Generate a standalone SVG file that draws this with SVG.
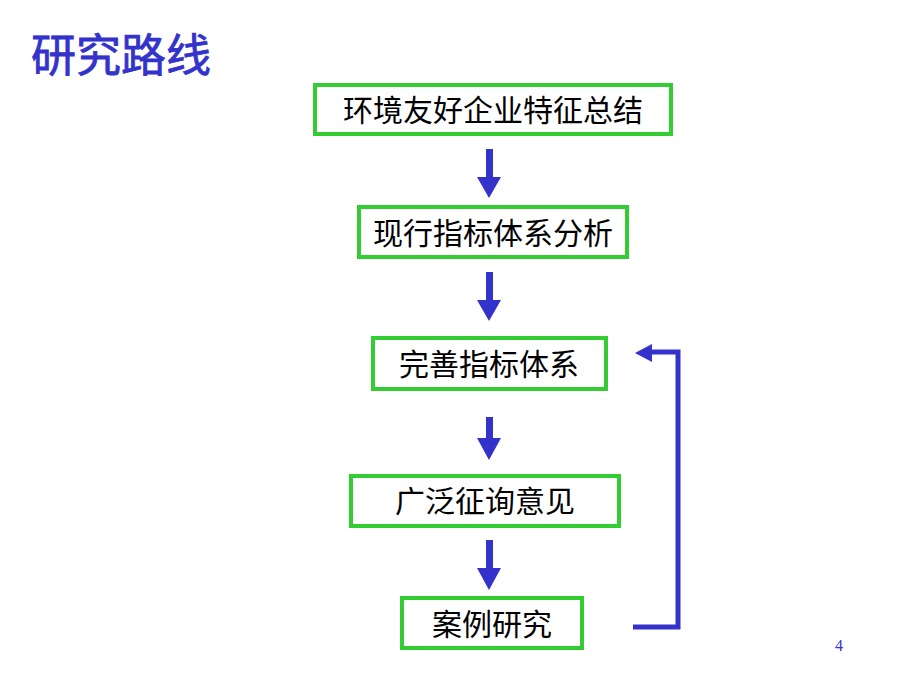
<svg xmlns="http://www.w3.org/2000/svg" width="920" height="690" viewBox="0 0 920 690">
<defs>
<style>
.box{fill:#ffffff;stroke:#33cc33;stroke-width:4}
.lbl{font-family:"Liberation Sans","Noto Sans CJK SC",sans-serif;font-size:30px;fill:#000;text-anchor:middle;dominant-baseline:central}
.arr{fill:#3333cc}
.fb{fill:none;stroke:#3333cc;stroke-width:5}
</style>
</defs>
<rect width="920" height="690" fill="#ffffff"/>
<text x="31" y="72" font-family="'Liberation Sans','Noto Sans CJK SC',sans-serif" font-size="45" fill="#3333cc" stroke="#3333cc" stroke-width="0.8">研究路线</text>
<g id="n1"><rect class="box" x="315" y="85" width="356" height="49"/><text class="lbl" x="493" y="110">环境友好企业特征总结</text></g>
<g id="n2"><rect class="box" x="359" y="207" width="268" height="50"/><text class="lbl" x="493" y="233">现行指标体系分析</text></g>
<g id="n3"><rect class="box" x="373" y="338" width="233" height="51"/><text class="lbl" x="489" y="364">完善指标体系</text></g>
<g id="n4"><rect class="box" x="351" y="476" width="268" height="50"/><text class="lbl" x="485" y="501">广泛征询意见</text></g>
<g id="n5"><rect class="box" x="402" y="598" width="180" height="50"/><text class="lbl" x="492" y="624">案例研究</text></g>
<g id="connectors">
<path class="arr" d="M486,149 H493 V177 H501 L489,198 L477,177 H486 Z"/>
<path class="arr" d="M486,272 H493 V300 H501 L489,321 L477,300 H486 Z"/>
<path class="arr" d="M486,417 H493 V438 H501 L489,460 L477,438 H486 Z"/>
<path class="arr" d="M486,540 H493 V568 H501 L489,590 L477,568 H486 Z"/>
<path class="fb" d="M633,627 H678 V352 H648"/>
<path class="arr" d="M635,353 L652,344 V362 Z"/>
</g>
<text x="835" y="651" font-family="'Liberation Serif',serif" font-size="16" fill="#3333cc">4</text>
</svg>
